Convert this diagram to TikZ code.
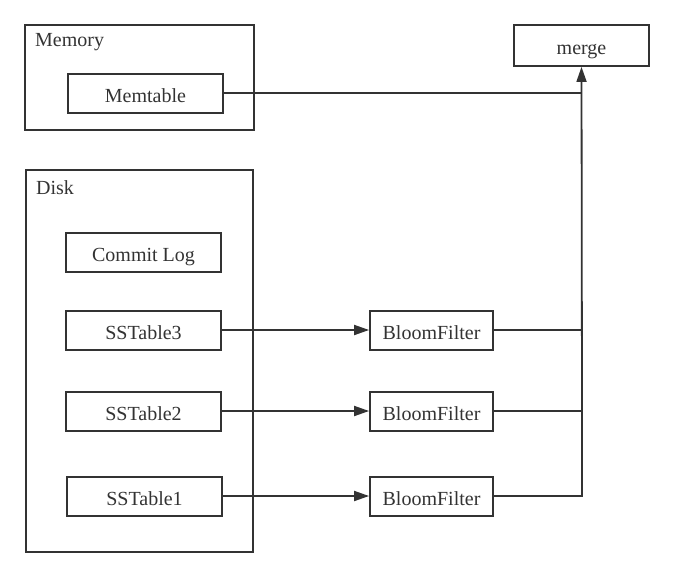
\documentclass[tikz,border=0pt]{standalone}
\usepackage{fontspec}
\setmainfont{Liberation Serif}
\usetikzlibrary{arrows.meta}
\definecolor{ink}{HTML}{333333}
\begin{document}
\begin{tikzpicture}[x=1pt,y=-1pt,
  box/.style={draw=ink,line width=1.8pt,inner sep=0pt,font=\fontsize{20}{24}\selectfont,text=ink,text height=18pt,text depth=0pt},
  lbl/.style={anchor=west,inner sep=0pt,font=\fontsize{20}{24}\selectfont,text=ink},
  conn/.style={draw=ink,line width=1.8pt},
  arr/.style={conn,-{Triangle[length=15pt,width=10pt]}}]
\useasboundingbox (0,0) rectangle (674,578);
% containers
\node[box,minimum width=229pt,minimum height=105pt] (memory) at (139.5,77.5) {};
\node[lbl] (memlbl) at (35,42.5) {Memory};
\node[box,minimum width=227pt,minimum height=382pt] (disk) at (139.5,361) {};
\node[lbl] (disklbl) at (36,187.5) {Disk};
% nodes
\node[box,minimum width=155pt,minimum height=39pt] (memtable) at (145.5,93.5) {Memtable};
\node[box,minimum width=135pt,minimum height=41pt] (merge) at (581.5,45.5) {merge};
\node[box,minimum width=155pt,minimum height=39pt] (commit) at (143.5,252.5) {Commit Log};
\node[box,minimum width=155pt,minimum height=39pt] (ss3) at (143.5,330.5) {SSTable3};
\node[box,minimum width=155pt,minimum height=39pt] (ss2) at (143.5,411.5) {SSTable2};
\node[box,minimum width=155pt,minimum height=39pt] (ss1) at (144.5,496.5) {SSTable1};
\node[box,minimum width=123pt,minimum height=39pt] (bf3) at (431.5,330.5) {BloomFilter};
\node[box,minimum width=123pt,minimum height=39pt] (bf2) at (431.5,411.5) {BloomFilter};
\node[box,minimum width=123pt,minimum height=39pt] (bf1) at (431.5,496.5) {BloomFilter};
% connectors
\draw[arr] (ss3.east |- 0,330) -- (bf3.west |- 0,330);
\draw[arr] (ss2.east |- 0,411) -- (bf2.west |- 0,411);
\draw[arr] (ss1.east |- 0,496) -- (bf1.west |- 0,496);
\draw[conn] (memtable.east |- 0,93) -- (582,93);
\draw[conn] (bf3.east |- 0,330) -- (582,330);
\draw[conn] (bf2.east |- 0,411) -- (582,411);
\draw[conn] (bf1.east |- 0,496) -- (582,496) -- (582,411);
\draw[arr] (582,411) -- (merge.south);
\end{tikzpicture}
\end{document}
